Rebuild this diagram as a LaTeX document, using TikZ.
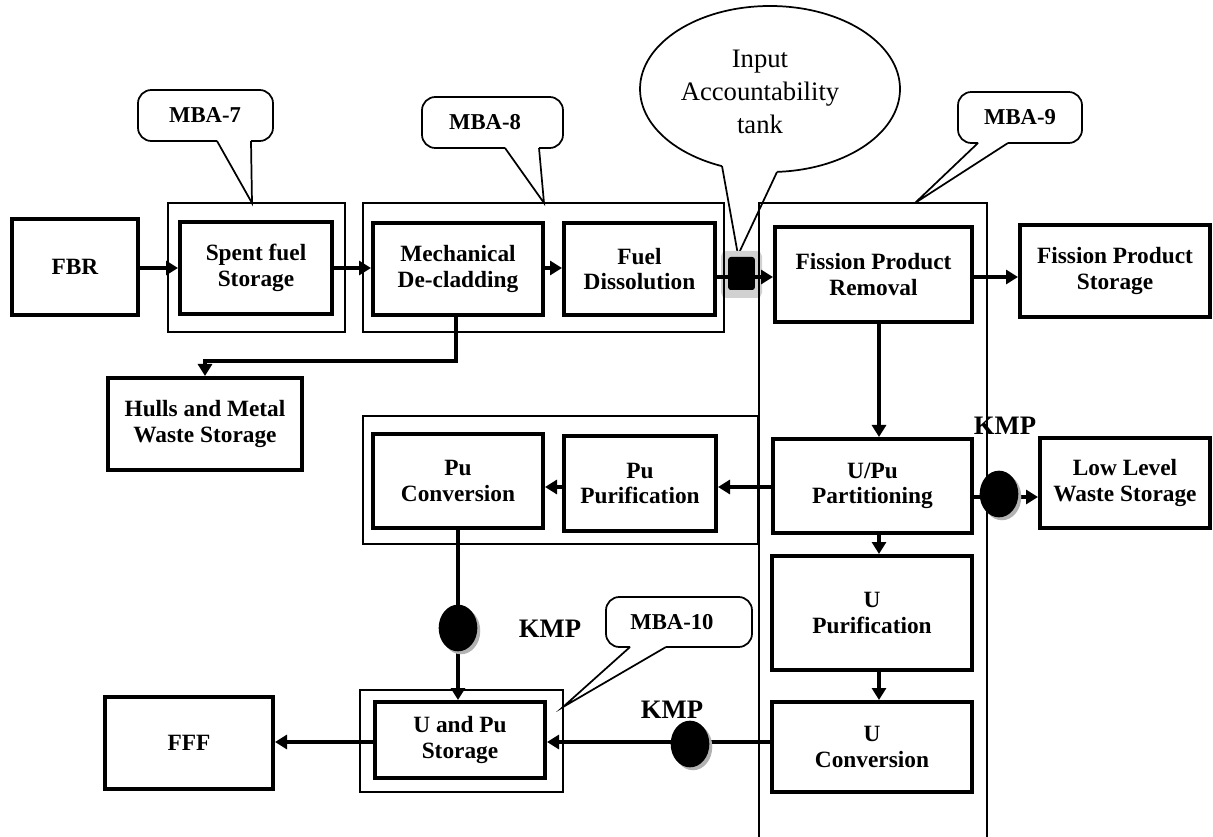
\documentclass[tikz,border=0pt]{standalone}
\usepackage{fontspec}
\setmainfont{Liberation Serif}
\usetikzlibrary{arrows.meta,shadows,fit,shapes.geometric}
\newcommand\mkbox[4]{\node[box,fit={#2 #3}] (#1) {};\node[boxtext] (#1t) at (#1.center) {#4};}
\begin{document}
\begin{tikzpicture}[x=0.75pt,y=-0.75pt,
  box/.style={draw,line width=3pt,inner sep=0pt},
  boxtext/.style={align=center,font=\fontsize{17.5}{19}\selectfont\bfseries,inner sep=0pt},
  frame/.style={draw,line width=1pt},
  flow/.style={line width=2.6pt,-{Triangle[length=9pt,width=10.5pt]}},
  callout/.style={draw,line width=1.3pt},
  mbalabel/.style={font=\fontsize{17}{19}\selectfont\bfseries},
  kmplabel/.style={font=\fontsize{20}{22}\selectfont\bfseries},
  kmp/.style={ellipse,fill=black,minimum width=29pt,minimum height=35pt,inner sep=0pt,
    drop shadow={shadow xshift=2.2pt,shadow yshift=-2.2pt,fill=black!30,opacity=1}},
]
\useasboundingbox (0,0) rectangle (1213,837);
% ellipse callout
\draw[callout,fill=white] (770,89) ellipse [x radius=130,y radius=83];
\fill[white] (722,166) -- (738,255) -- (777,172) -- (777,150) -- (722,150) -- cycle;
\draw[callout] (722,166) -- (738,255) -- (777,172);
\node[align=center,font=\fontsize{20}{24.75}\selectfont] (iat) at (760,92) {Input\\Accountability\\tank};
% tank halo
\fill[black!18,rounded corners=4pt] (721,251) rectangle (762,298);
% frames
\draw[frame] (168,203) rectangle (345,332);
\draw[frame] (363,203) rectangle (724,332);
\draw[frame] (759,837) -- (759,203) -- (987,203) -- (987,837);
\draw[frame] (363,416) rectangle (758,544);
\draw[frame] (360,690) rectangle (563,792);
% boxes
\mkbox{fbr}{(12,219)}{(138,315)}{FBR}
\mkbox{sfs}{(180,222)}{(332,314)}{Spent fuel\\Storage}
\mkbox{mdc}{(373,223)}{(543,315)}{Mechanical\\De-cladding}
\mkbox{fds}{(564,223)}{(715,315)}{Fuel\\Dissolution}
\mkbox{fpr}{(775,227)}{(972,322)}{Fission Product\\Removal}
\mkbox{fps}{(1020,225)}{(1210,317)}{Fission Product\\Storage}
\mkbox{hul}{(108,378)}{(302,470)}{Hulls and Metal\\Waste Storage}
\mkbox{puc}{(373,434)}{(543,528)}{Pu\\Conversion}
\mkbox{pup}{(564,436)}{(716,531)}{Pu\\Purification}
\mkbox{upu}{(773,439)}{(972,533)}{U/Pu\\Partitioning}
\mkbox{llw}{(1040,438)}{(1210,528)}{Low Level\\Waste Storage}
\mkbox{upf}{(772,556)}{(972,670)}{U\\Purification}
\mkbox{ucv}{(772,702)}{(972,792)}{U\\Conversion}
\mkbox{ups}{(375,702)}{(545,778)}{U and Pu\\Storage}
\mkbox{fff}{(105,697)}{(273,789)}{FFF}
% tank
\node[fill=black,rounded corners=2pt,minimum width=20pt,minimum height=24.75pt,inner sep=0pt] (tank) at (741.5,273.5) {};
% connectors
\draw[flow] (fbr.east |- 0,268) -- (sfs.west |- 0,268);
\draw[flow] (sfs.east |- 0,268) -- (mdc.west |- 0,268);
\draw[flow] (mdc.east |- 0,268) -- (fds.west |- 0,268);
\draw[flow] (fds.east |- 0,277) -- (fpr.west |- 0,277);
\draw[flow] (fpr.east |- 0,277) -- (fps.west |- 0,277);
\coordinate (m1) at (456,361);
\coordinate (m2) at (205,361);
\draw[flow] (mdc.south -| m1) -- (m1) -- (m2) -- (hul.north -| m2);
\draw[flow] (fpr.south -| 879,0) -- (upu.north -| 879,0);
\draw[flow] (upu.west |- 0,487) -- (pup.east |- 0,487);
\draw[flow] (pup.west |- 0,487) -- (puc.east |- 0,487);
\draw[flow] (upu.south -| 879,0) -- (upf.north -| 879,0);
\draw[flow] (upf.south -| 879,0) -- (ucv.north -| 879,0);
\draw[flow] (puc.south -| 458,0) -- (ups.north -| 458,0);
\draw[flow] (ucv.west |- 0,742) -- (ups.east |- 0,742);
\draw[flow] (ups.west |- 0,742) -- (fff.east |- 0,742);
\draw[flow] (upu.east |- 0,497) -- (llw.west |- 0,497);
% KMP circles
\node[kmp] (k1) at (999,494) {};
\node[kmp] (k2) at (458,628) {};
\node[kmp] (k3) at (690,744) {};
\node[kmplabel] (kl1) at (1005,426) {KMP};
\node[kmplabel] (kl2) at (550,629) {KMP};
\node[kmplabel] (kl3) at (672,710) {KMP};
% callouts
\draw[callout,rounded corners=10pt] (251,141) -- (273,141) -- (273,90) -- (138,90) -- (138,141) -- (217,141);
\draw[callout] (217,141) -- (252,203) -- (251,141);
\node[mbalabel] (c7) at (205,115) {MBA-7};
\draw[callout,rounded corners=10pt] (539,148) -- (563,148) -- (563,97) -- (422,97) -- (422,148) -- (505,148);
\draw[callout] (505,148) -- (544,203) -- (539,148);
\node[mbalabel] (c8) at (485,122) {MBA-8};
\draw[callout,rounded corners=10pt] (1008,143) -- (1082,143) -- (1082,92) -- (958,92) -- (958,143) -- (978,143);
\draw[callout] (978,143) -- (915,203) -- (1008,143);
\node[mbalabel] (c9) at (1020,117) {MBA-9};
\draw[callout,rounded corners=10pt] (666,647) -- (752,647) -- (752,597) -- (606,597) -- (606,647) -- (630,647);
\draw[callout] (630,647) -- (563,707) -- (666,647);
\node[mbalabel] (c10) at (672,622) {MBA-10};
\end{tikzpicture}
\end{document}
